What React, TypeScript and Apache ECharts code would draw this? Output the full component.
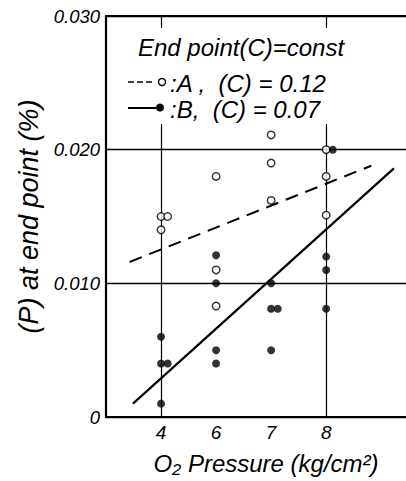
import React, { useEffect, useRef } from "react";
import * as echarts from "echarts";

// Category labels of the x axis (O2 pressure, kg/cm2), equally spaced
const pressureLabels = ["4", "6", "7", "8"];
// Y axis ticks
const yMin = 0;
const yMax = 0.03;
const yStep = 0.01;

// Series A (open circles), [category index, P %]
const pointsA: [number, number][] = [
  [0, 0.015], [0, 0.015], [0, 0.014],
  [1, 0.018], [1, 0.011], [1, 0.0083],
  [2, 0.0211], [2, 0.019], [2, 0.0162],
  [3, 0.020], [3, 0.018], [3, 0.0151],
];
// Series B (filled circles)
const pointsB: [number, number][] = [
  [0, 0.006], [0, 0.004], [0, 0.004], [0, 0.001],
  [1, 0.0121], [1, 0.010], [1, 0.005], [1, 0.004],
  [2, 0.010], [2, 0.0081], [2, 0.0081], [2, 0.005],
  [3, 0.020], [3, 0.012], [3, 0.011], [3, 0.0081],
];
// Fitted lines (category-index units)
const fitA: [number, number][] = [[-0.57, 0.0116], [3.82, 0.0188]];
const fitB: [number, number][] = [[-0.51, 0.001], [4.23, 0.0186]];
// Vertical guide lines at these categories
const guideCats = [0, 3];

const FONT = "'Liberation Sans', Arial, sans-serif";

function spread(a: [number, number][], b: [number, number][]) {
  const seen: Record<string, number> = {};
  const place = (pts: [number, number][]) =>
    pts.map(([x, y]) => {
      const k = x + "_" + y;
      const n = seen[k] || 0;
      seen[k] = n + 1;
      return [x + n * 0.12, y];
    });
  return [place(a), place(b)];
}

export default function App() {
  const ref = useRef<HTMLDivElement>(null);
  useEffect(() => {
    document.body.style.margin = "0";
    if (!ref.current) return;
    const chart = echarts.init(ref.current, null, { renderer: "svg" });
    const [dataA, dataB] = spread(pointsA, pointsB);
    const txt = { fontFamily: FONT, fontStyle: "italic", color: "#000" };
    chart.setOption({
      animation: false,
      backgroundColor: "#fff",
      grid: { left: 106, right: 0, top: 16, bottom: 64 },
      xAxis: [
        {
          type: "value",
          min: -1,
          max: 4.45,
          interval: 1,
          axisLine: { show: true, onZero: false, lineStyle: { color: "#000", width: 2.2 } },
          axisTick: { show: false },
          splitLine: { show: false },
          axisLabel: {
            ...txt,
            fontSize: 19,
            margin: 6,
            showMinLabel: false,
            showMaxLabel: false,
            formatter: (v: number) =>
              Number.isInteger(v) && v >= 0 && v < pressureLabels.length
                ? pressureLabels[v]
                : "",
          },
          name: "O\u2082 Pressure (kg/cm\u00b2)",
          nameLocation: "middle",
          nameGap: 34,
          nameTextStyle: { ...txt, fontSize: 24, padding: [0, 0, 0, 20] },
        },
        {
          type: "value",
          position: "top",
          min: -1,
          max: 4.45,
          axisLine: { show: true, onZero: false, lineStyle: { color: "#000", width: 2.2 } },
          axisTick: { show: false },
          axisLabel: { show: false },
          splitLine: { show: false },
        },
      ],
      yAxis: {
        type: "value",
        min: yMin,
        max: yMax,
        interval: yStep,
        axisLine: { show: true, onZero: false, lineStyle: { color: "#000", width: 2.2 } },
        axisTick: { show: false },
        splitLine: { show: true, lineStyle: { color: "#000", width: 1.4 } },
        axisLabel: {
          ...txt,
          fontSize: 18.5,
          margin: 6,
          formatter: (v: number) => (v === 0 ? "0" : v.toFixed(3)),
        },
        name: "(P) at end point (%)",
        nameLocation: "middle",
        nameRotate: 90,
        nameGap: 62,
        nameTextStyle: { ...txt, fontSize: 27 },
      },
      series: [
        {
          type: "line",
          data: fitA,
          symbol: "none",
          lineStyle: { color: "#000", width: 2, type: [13, 8] },
          silent: true,
          markLine: {
            silent: true,
            symbol: "none",
            label: { show: false },
            lineStyle: { color: "#000", width: 1.2, type: "solid" },
            data: guideCats.map((c) => ({ xAxis: c })),
          },
        },
        {
          type: "line",
          data: fitB,
          symbol: "none",
          lineStyle: { color: "#000", width: 2.2, type: "solid" },
          silent: true,
        },
        {
          type: "scatter",
          data: dataA,
          symbol: "circle",
          symbolSize: 7.5,
          itemStyle: { color: "#fff", borderColor: "#000", borderWidth: 1.4 },
          z: 5,
        },
        {
          type: "scatter",
          data: dataB,
          symbol: "circle",
          symbolSize: 8,
          itemStyle: { color: "#000" },
          z: 5,
        },
      ],
      graphic: [
        {
          type: "rect",
          shape: { x: 120, y: 28, width: 240, height: 96 },
          style: { fill: "#fff" },
          z: 10,
        },
        {
          type: "text",
          x: 138,
          y: 47,
          z: 11,
          style: { text: "End point(C)=const", ...txt, fill: "#000", fontSize: 24, verticalAlign: "middle" },
        },
        {
          type: "line",
          z: 11,
          shape: { x1: 128, y1: 82, x2: 154, y2: 82 },
          style: { stroke: "#000", lineWidth: 1.6, lineDash: [6, 3] },
        },
        {
          type: "circle",
          z: 11,
          shape: { cx: 162, cy: 82, r: 3.5 },
          style: { fill: "#fff", stroke: "#000", lineWidth: 1.4 },
        },
        {
          type: "text",
          x: 170,
          y: 83,
          z: 11,
          style: { text: ":A ,  (C) = 0.12", ...txt, fill: "#000", fontSize: 24, verticalAlign: "middle" },
        },
        {
          type: "line",
          z: 11,
          shape: { x1: 128, y1: 108, x2: 156, y2: 108 },
          style: { stroke: "#000", lineWidth: 2 },
        },
        {
          type: "circle",
          z: 11,
          shape: { cx: 160, cy: 107.5, r: 4 },
          style: { fill: "#000" },
        },
        {
          type: "text",
          x: 170,
          y: 109,
          z: 11,
          style: { text: ":B,  (C) = 0.07", ...txt, fill: "#000", fontSize: 24, verticalAlign: "middle" },
        },
      ],
    });
    return () => chart.dispose();
  }, []);
  return <div ref={ref} style={{ width: 406, height: 481 }} />;
}
